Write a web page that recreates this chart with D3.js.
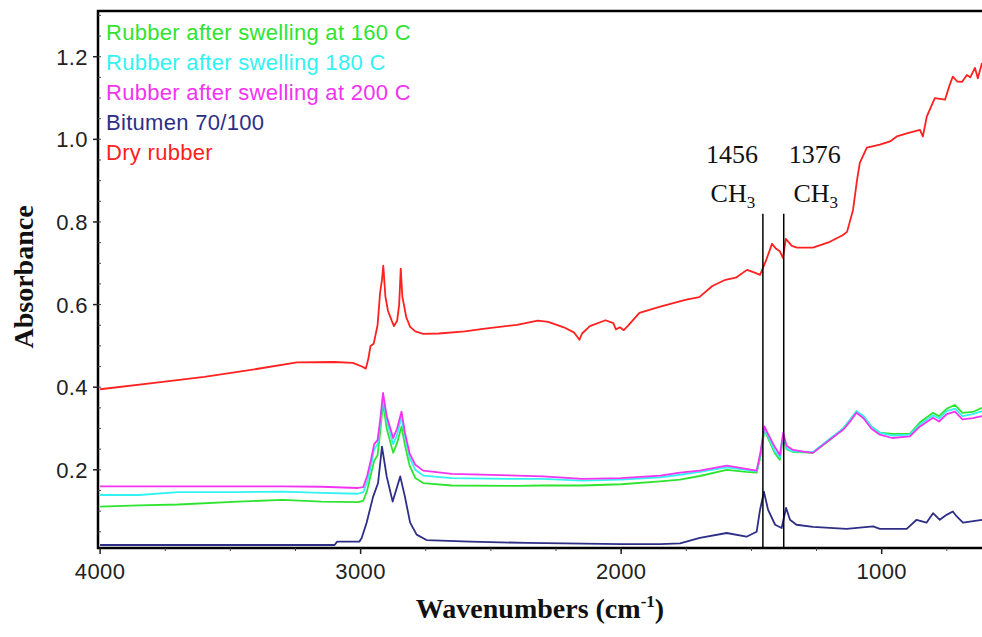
<!DOCTYPE html>
<html lang="en">
    <head>
        <meta charset="utf-8">
        <title>FTIR spectra</title>
        <style type="text/css">
            body {
              margin: 0;
              background: #fff;
            }

            text.tick {
              font: 22px "Liberation Sans", Arial, sans-serif;
              letter-spacing: 0.4px;
              fill: #222;
            }

            text.legend {
              font: 22px "Liberation Sans", Arial, sans-serif;
              letter-spacing: 0.3px;
            }

            text.AxisTitle {
              font: bold 28px "Liberation Serif", "Times New Roman", serif;
              fill: #111;
            }

            text.peak {
              font: 26px "Liberation Serif", "Times New Roman", serif;
              fill: #111;
            }
        </style>
    </head>
    <body>
        <script src="https://cdnjs.cloudflare.com/ajax/libs/d3/7.8.5/d3.min.js"></script>
        <script type="text/javascript">

          // dry rubber spectrum
          const dryWn = [4000, 3800, 3600, 3400, 3244, 3100, 3030, 2995, 2980, 2970, 2962, 2950, 2935, 2925, 2918, 2913, 2905, 2895, 2880, 2872, 2860, 2852, 2846, 2840, 2825, 2810, 2790, 2760, 2700, 2600, 2530, 2400, 2320, 2280, 2220, 2180, 2160, 2150, 2120, 2060, 2030, 2020, 2005, 1990, 1975, 1930, 1850, 1750, 1700, 1650, 1600, 1560, 1517, 1490, 1467, 1455, 1445, 1421, 1405, 1391, 1379, 1368, 1345, 1325, 1264, 1230, 1199, 1150, 1133, 1110, 1095, 1084, 1057, 1007, 968, 942, 900, 853, 842, 827, 810, 796, 757, 740, 727, 710, 692, 673, 660, 642, 631, 615];
          const dryAbs = [0.395, 0.41, 0.425, 0.444, 0.46, 0.461, 0.459, 0.45, 0.445, 0.47, 0.5, 0.505, 0.55, 0.63, 0.66, 0.694, 0.62, 0.585, 0.56, 0.548, 0.56, 0.6, 0.687, 0.62, 0.57, 0.546, 0.535, 0.529, 0.53, 0.535, 0.541, 0.551, 0.561, 0.558, 0.545, 0.532, 0.515, 0.53, 0.548, 0.562, 0.555, 0.54, 0.545, 0.538, 0.548, 0.58, 0.595, 0.612, 0.618, 0.645, 0.66, 0.665, 0.684, 0.678, 0.672, 0.69, 0.705, 0.747, 0.735, 0.729, 0.713, 0.759, 0.742, 0.738, 0.738, 0.745, 0.752, 0.768, 0.776, 0.829, 0.9, 0.943, 0.98, 0.987, 0.995, 1.007, 1.015, 1.023, 1.007, 1.055, 1.08, 1.1, 1.096, 1.13, 1.152, 1.14, 1.139, 1.156, 1.15, 1.173, 1.148, 1.185];

          // bitumen 70/100 spectrum
          const bitWn = [4000, 3100, 3090, 3005, 2996, 2977, 2952, 2933, 2918, 2900, 2877, 2848, 2830, 2810, 2785, 2747, 2580, 2363, 2000, 1850, 1774, 1698, 1595, 1519, 1480, 1467, 1452, 1436, 1409, 1384, 1367, 1352, 1327, 1264, 1135, 1033, 1007, 904, 866, 828, 803, 777, 751, 727, 712, 688, 615];
          const bitAbs = [0.018, 0.018, 0.026, 0.026, 0.035, 0.072, 0.135, 0.168, 0.256, 0.184, 0.123, 0.184, 0.135, 0.072, 0.043, 0.03, 0.026, 0.023, 0.02, 0.02, 0.022, 0.035, 0.047, 0.038, 0.05, 0.103, 0.147, 0.103, 0.067, 0.059, 0.108, 0.079, 0.067, 0.062, 0.057, 0.063, 0.057, 0.057, 0.079, 0.072, 0.095, 0.079, 0.091, 0.099, 0.087, 0.072, 0.079];

          // swollen rubber spectra share one wavenumber grid
          const swellWn = [4000, 3850, 3700, 3470, 3300, 3150, 3010, 2990, 2975, 2960, 2948, 2935, 2925, 2914, 2900, 2875, 2860, 2843, 2830, 2812, 2790, 2760, 2650, 2400, 2300, 2150, 2000, 1850, 1774, 1698, 1595, 1520, 1480, 1466, 1450, 1435, 1410, 1391, 1378, 1365, 1340, 1300, 1264, 1199, 1148, 1120, 1097, 1070, 1040, 1007, 960, 892, 853, 803, 780, 750, 719, 690, 650, 615];
          const abs160 = [0.111, 0.114, 0.116, 0.123, 0.127, 0.123, 0.122, 0.125, 0.15, 0.19, 0.222, 0.235, 0.29, 0.362, 0.3, 0.241, 0.265, 0.305, 0.26, 0.21, 0.18, 0.168, 0.162, 0.161, 0.162, 0.162, 0.165, 0.172, 0.176, 0.185, 0.2, 0.195, 0.193, 0.23, 0.297, 0.275, 0.24, 0.224, 0.281, 0.25, 0.243, 0.242, 0.241, 0.272, 0.3, 0.322, 0.341, 0.33, 0.305, 0.29, 0.287, 0.287, 0.315, 0.338, 0.33, 0.348, 0.357, 0.338, 0.34, 0.35];
          const abs180 = [0.139, 0.139, 0.146, 0.146, 0.147, 0.144, 0.142, 0.146, 0.17, 0.21, 0.25, 0.262, 0.31, 0.376, 0.32, 0.262, 0.285, 0.328, 0.28, 0.23, 0.2, 0.186, 0.18, 0.178, 0.178, 0.174, 0.176, 0.182, 0.188, 0.195, 0.206, 0.2, 0.196, 0.235, 0.3, 0.28, 0.245, 0.23, 0.285, 0.252, 0.244, 0.244, 0.243, 0.275, 0.3, 0.322, 0.342, 0.33, 0.305, 0.29, 0.283, 0.285, 0.31, 0.332, 0.324, 0.342, 0.348, 0.33, 0.335, 0.342];
          const abs200 = [0.16, 0.16, 0.16, 0.16, 0.16, 0.159, 0.156, 0.158, 0.185, 0.225, 0.262, 0.272, 0.32, 0.386, 0.33, 0.277, 0.3, 0.341, 0.29, 0.24, 0.212, 0.198, 0.19, 0.186, 0.184, 0.178, 0.18, 0.186, 0.193, 0.198, 0.21, 0.202, 0.198, 0.24, 0.305, 0.285, 0.255, 0.236, 0.29, 0.258, 0.248, 0.244, 0.241, 0.273, 0.297, 0.318, 0.338, 0.325, 0.3, 0.285, 0.277, 0.281, 0.305, 0.326, 0.317, 0.335, 0.341, 0.322, 0.325, 0.33];

          // legend labels and colours, drawn in this order
          const seriesNames = ["Rubber after swelling at 160 C", "Rubber after swelling 180 C", "Rubber after swelling at 200 C", "Bitumen 70/100", "Dry rubber"];
          const seriesColors = ["#2fe42f", "#33f2f2", "#f233f2", "#2e2e86", "#ff2020"];

          // marked peaks, labels sit left and right of their lines
          const peakWn = [1456, 1376];
          const peakLabels = ["1456", "1376"];
          const peakSide = [-1, 1];

          // axis ticks
          const xTicks = [4000, 3000, 2000, 1000];
          const yTicks = [0.2, 0.4, 0.6, 0.8, 1.0, 1.2];

          const width = 982, height = 637;
          const plotLeft = 98, plotRight = 982, plotTop = 11, plotBottom = 548;

          var svg = d3.select("body")
                      .append("svg")
                      .attr("width", width)
                      .attr("height", height);

          // x runs from high to low wavenumber
          var xScale = d3.scaleLinear()
                         .domain([4008, 615])
                         .range([plotLeft, plotRight]);

          var yScale = d3.scaleLinear()
                         .domain([0.0107, 1.3107])
                         .range([plotBottom, plotTop]);

          svg.append("clipPath")
             .attr("id", "plotClip")
             .append("rect")
             .attr("x", plotLeft)
             .attr("y", plotTop)
             .attr("width", plotRight - plotLeft)
             .attr("height", plotBottom - plotTop);

          var line = d3.line()
                       .x(function(d) { return xScale(d[0]); })
                       .y(function(d) { return yScale(d[1]); });

          // pair wavenumbers with values
          function pairs(wn, ab) {
            return wn.map(function(w, i) { return [w, ab[i]]; });
          }

          const series = [
            pairs(swellWn, abs160),
            pairs(swellWn, abs180),
            pairs(swellWn, abs200),
            pairs(bitWn, bitAbs),
            pairs(dryWn, dryAbs)
          ];

          var plot = svg.append("g").attr("clip-path", "url(#plotClip)");

          plot.selectAll("path.spectrum")
              .data(series)
              .enter()
              .append("path")
              .attr("class", "spectrum")
              .attr("d", line)
              .attr("fill", "none")
              .attr("stroke", function(d, i) { return seriesColors[i]; })
              .attr("stroke-width", 1.8)
              .attr("stroke-linejoin", "round");

          // peak marker lines
          plot.selectAll("line.peak")
              .data(peakWn)
              .enter()
              .append("line")
              .attr("class", "peak")
              .attr("x1", function(d) { return xScale(d); })
              .attr("x2", function(d) { return xScale(d); })
              .attr("y1", yScale(0.82))
              .attr("y2", plotBottom)
              .attr("stroke", "#000")
              .attr("stroke-width", 1.5);

          // peak labels
          peakWn.forEach(function(w, i) {
            var cx = xScale(w) + peakSide[i] * 31;
            svg.append("text")
               .attr("class", "peak")
               .attr("x", cx)
               .attr("y", 163)
               .attr("text-anchor", "middle")
               .text(peakLabels[i]);
            var ch = svg.append("text")
                        .attr("class", "peak")
                        .attr("x", cx + 1)
                        .attr("y", 202)
                        .attr("text-anchor", "middle");
            ch.append("tspan").text("CH");
            ch.append("tspan")
              .attr("font-size", "17px")
              .attr("dy", 6)
              .text("3");
          });

          // frame
          svg.append("path")
             .attr("d", "M" + (plotRight + 5) + "," + plotTop + "H" + plotLeft + "V" + plotBottom + "H" + (plotRight + 5))
             .attr("fill", "none")
             .attr("stroke", "#000")
             .attr("stroke-width", 2.5);

          // x axis ticks
          var xMinor = d3.range(3750, 600, -250);
          svg.selectAll("line.xminor")
             .data(xMinor)
             .enter()
             .append("line")
             .attr("class", "xminor")
             .attr("x1", function(d) { return xScale(d); })
             .attr("x2", function(d) { return xScale(d); })
             .attr("y1", plotBottom)
             .attr("y2", plotBottom + 3)
             .attr("stroke", "#444")
             .attr("stroke-width", 1);

          svg.selectAll("line.xmajor")
             .data(xTicks)
             .enter()
             .append("line")
             .attr("class", "xmajor")
             .attr("x1", function(d) { return xScale(d); })
             .attr("x2", function(d) { return xScale(d); })
             .attr("y1", plotBottom)
             .attr("y2", plotBottom + 6)
             .attr("stroke", "#222")
             .attr("stroke-width", 1.5);

          svg.selectAll("text.xlabel")
             .data(xTicks)
             .enter()
             .append("text")
             .attr("class", "tick xlabel")
             .attr("x", function(d) { return xScale(d); })
             .attr("y", 579)
             .attr("text-anchor", "middle")
             .text(function(d) { return d; });

          // y axis ticks
          var yMinor = d3.range(0.05, 1.31, 0.05);
          svg.selectAll("line.yminor")
             .data(yMinor)
             .enter()
             .append("line")
             .attr("class", "yminor")
             .attr("x1", plotLeft)
             .attr("x2", plotLeft + 3)
             .attr("y1", function(d) { return yScale(d); })
             .attr("y2", function(d) { return yScale(d); })
             .attr("stroke", "#444")
             .attr("stroke-width", 1);

          svg.selectAll("line.ymajor")
             .data(yTicks)
             .enter()
             .append("line")
             .attr("class", "ymajor")
             .attr("x1", plotLeft - 5)
             .attr("x2", plotLeft)
             .attr("y1", function(d) { return yScale(d); })
             .attr("y2", function(d) { return yScale(d); })
             .attr("stroke", "#222")
             .attr("stroke-width", 1.5);

          svg.selectAll("text.ylabel")
             .data(yTicks)
             .enter()
             .append("text")
             .attr("class", "tick ylabel")
             .attr("x", plotLeft - 10)
             .attr("y", function(d) { return yScale(d) + 8; })
             .attr("text-anchor", "end")
             .text(function(d) { return d.toFixed(1); });

          // legend
          svg.selectAll("text.legend")
             .data(seriesNames)
             .enter()
             .append("text")
             .attr("class", "legend")
             .attr("x", 106)
             .attr("y", function(d, i) { return 40 + i * 30; })
             .attr("fill", function(d, i) { return seriesColors[i]; })
             .text(function(d) { return d; });

          // axis titles
          var xt = svg.append("text")
                      .attr("class", "AxisTitle")
                      .attr("x", 540)
                      .attr("y", 618)
                      .attr("text-anchor", "middle");
          xt.append("tspan").text("Wavenumbers (cm");
          xt.append("tspan").attr("font-size", "17px").attr("dy", -11).text("-1");
          xt.append("tspan").attr("dy", 11).text(")");

          svg.append("text")
             .attr("class", "AxisTitle")
             .attr("transform", "translate(33,277) rotate(-90)")
             .attr("font-size", "30px")
             .attr("text-anchor", "middle")
             .text("Absorbance");
        </script>
    </body>
</html>
